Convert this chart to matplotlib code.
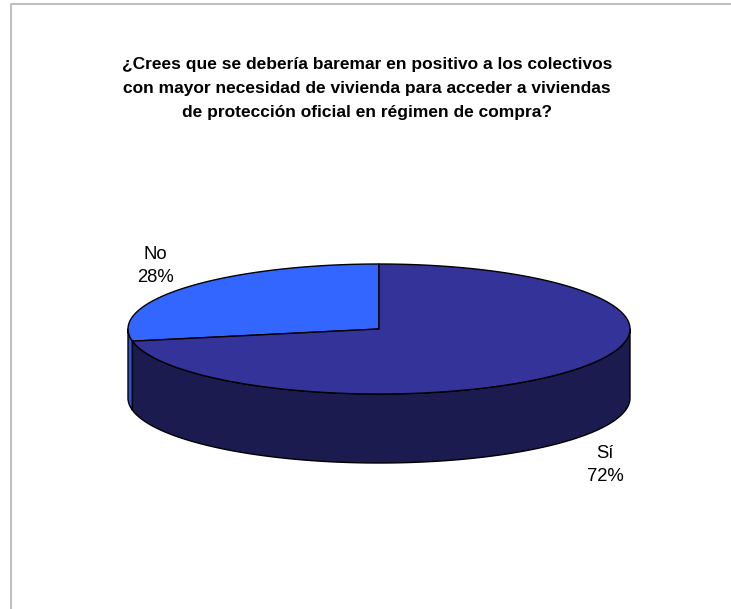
import numpy as np
import matplotlib
matplotlib.use("Agg")
import matplotlib.pyplot as plt
from matplotlib.patches import Polygon

# Chart data
categories = ["No", "Sí"]
percentages = [28, 72]
top_colors = ["#3366FF", "#333399"]
side_colors = ["#2a52d6", "#1b1b4f"]
title = ("¿Crees que se debería baremar en positivo a los colectivos\n"
         "con mayor necesidad de vivienda para acceder a viviendas\n"
         "de protección oficial en régimen de compra?")

plt.rcParams['font.family'] = ['Liberation Sans', 'DejaVu Sans']

fig = plt.figure(figsize=(7.31, 6.09), dpi=100)
ax = fig.add_axes([0, 0, 1, 1])
ax.set_xlim(0, 731)
ax.set_ylim(609, 0)
ax.axis('off')

# chart area frame (only top and left edges visible)
ax.plot([11, 11, 731], [609, 4, 4], color='#c0c0c0', lw=1.5, solid_capstyle='butt')

ax.text(367, 88, title, ha='center', va='center', fontsize=12.5,
        fontweight='bold', linespacing=1.75)

# 3D pie geometry
cx, cy = 379, 329
a, b = 251, 65
depth = 69


def ellipse_pts(t0, t1, dy=0, n=200):
    t = np.radians(np.linspace(t0, t1, n))
    return np.column_stack([cx + a * np.cos(t), cy - b * np.sin(t) + dy])


# slice angles: start at 12 o'clock, going counter-clockwise
total = float(sum(percentages))
starts = []
ang = 90.0
for p in percentages:
    starts.append((ang, ang + 360.0 * p / total))
    ang += 360.0 * p / total

# side walls (front half only: 180..360 degrees)
for (t0, t1), col in zip(starts, side_colors):
    for off in (0, 360):
        s0 = max(t0, 180 + off)
        s1 = min(t1, 360 + off)
        if s1 > s0:
            top = ellipse_pts(s0, s1)
            bot = ellipse_pts(s1, s0, dy=depth)
            ax.add_patch(Polygon(np.vstack([top, bot]), closed=True,
                                 facecolor=col, edgecolor='black', lw=1.0,
                                 joinstyle='round'))

# top faces
for (t0, t1), col in zip(starts, top_colors):
    arc = ellipse_pts(t0, t1)
    pts = np.vstack([[cx, cy], arc])
    ax.add_patch(Polygon(pts, closed=True, facecolor=col, edgecolor='black',
                         lw=1.0, joinstyle='round'))

# labels
label_pos = [(155, 266), (605, 465)]
for name, p, (lx, ly) in zip(categories, percentages, label_pos):
    ax.text(lx, ly, "%s\n%d%%" % (name, p), ha='center', va='center',
            fontsize=13.3, linespacing=1.5)

fig.savefig("out.png", dpi=100)
